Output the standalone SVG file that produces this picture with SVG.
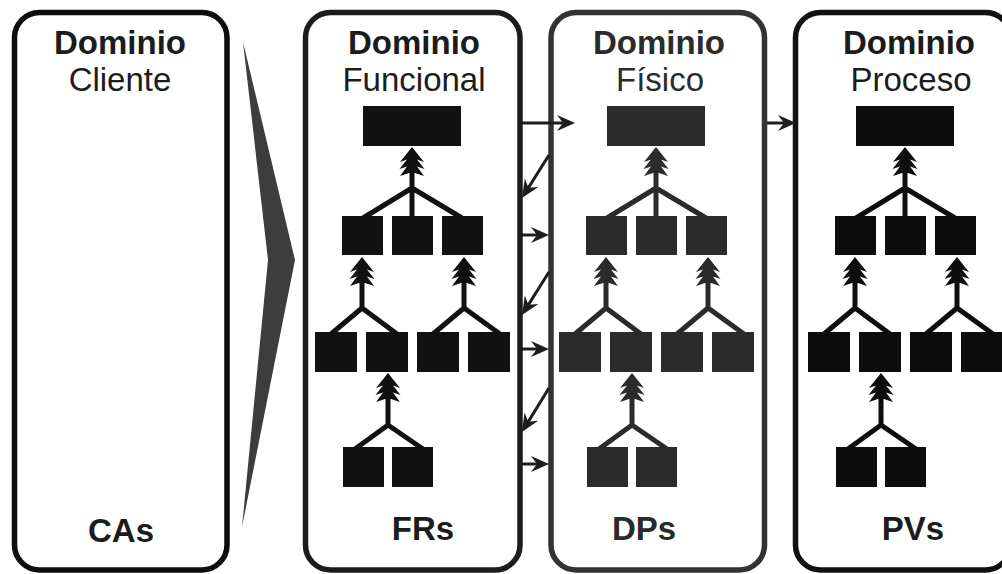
<svg xmlns="http://www.w3.org/2000/svg" xmlns:xlink="http://www.w3.org/1999/xlink" width="1002" height="574" viewBox="0 0 1002 574">
  <style>
    .panel { fill: #ffffff; stroke-width: 5.5; }
    .t { font-family: "Liberation Sans", Arial, Helvetica, sans-serif; font-size: 33px; text-anchor: middle; fill: #1c1c1c; }
    .b { font-weight: bold; }
    .box { fill: currentColor; }
    .link { fill: none; stroke: currentColor; stroke-width: 5; stroke-linecap: butt; stroke-linejoin: miter; }
    .conn { fill: none; stroke: #1e1e1e; stroke-width: 3; }
  </style>
  <defs>
    <path id="tree-head" d="M0,0 L12,15 L5,12.5 L12.5,22 L5,19.5 L12,29 L3,26 L-3,26 L-12,29 L-5,19.5 L-12.5,22 L-5,12.5 L-12,15 Z"/>
    <marker id="arr" viewBox="-14 -10 22 20" refX="0" refY="0" markerWidth="22" markerHeight="20" markerUnits="userSpaceOnUse" orient="auto">
      <path d="M6,0 L-12,-8 L-6,0 L-12,8 Z" fill="#1e1e1e"/>
    </marker>
  </defs>
  <rect width="1002" height="574" fill="#ffffff"/>

  <!-- chevron -->
  <polygon id="chevron" points="243,42 295,260 242,527 268,260" fill="#3d3d3d"/>

  <g id="dominio-cliente">
    <rect class="panel" x="14.5" y="12.5" width="212.5" height="557.5" rx="25" stroke="#0d0d0d"/>
    <text class="t b" x="120" y="54">Dominio</text>
    <text class="t" x="120" y="91">Cliente</text>
    <text class="t b" x="121" y="542">CAs</text>
  </g>

  <g id="dominio-funcional">
    <rect class="panel" x="305.5" y="12.5" width="214.5" height="557.5" rx="25" stroke="#1c1c1c"/>
    <text class="t b" x="414" y="54">Dominio</text>
    <text class="t" x="414" y="91">Funcional</text>
    <text class="t b" x="423" y="540">FRs</text>
  </g>

  <g id="dominio-fisico">
    <rect class="panel" x="551" y="12.5" width="213.5" height="557.5" rx="25" stroke="#333333"/>
    <text class="t b" x="659" y="54" style="fill:#2b2b2b">Dominio</text>
    <text class="t" x="660" y="91" style="fill:#2b2b2b">Físico</text>
    <text class="t b" x="644" y="540" style="fill:#2b2b2b">DPs</text>
  </g>

  <g id="dominio-proceso">
    <rect class="panel" x="795.5" y="12.5" width="215" height="557.5" rx="25" stroke="#111111"/>
    <text class="t b" x="909" y="54">Dominio</text>
    <text class="t" x="911" y="91">Proceso</text>
    <text class="t b" x="913" y="540">PVs</text>
  </g>

  <!-- hierarchy trees -->
  <g id="tree-frs" style="color:#111111">
    <rect class="box" x="363" y="106" width="98" height="40"/>
    <rect class="box" x="342" y="216" width="41" height="39"/>
    <rect class="box" x="392" y="216" width="41" height="39"/>
    <rect class="box" x="442" y="216" width="41" height="39"/>
    <rect class="box" x="315" y="332" width="42" height="40"/>
    <rect class="box" x="366" y="332" width="42" height="40"/>
    <rect class="box" x="417" y="332" width="42" height="40"/>
    <rect class="box" x="468" y="332" width="42" height="40"/>
    <rect class="box" x="343" y="447" width="41" height="40"/>
    <rect class="box" x="392" y="447" width="41" height="40"/>
    <path class="link" d="M412,170 V218 M363,218 L412,188 L462,218"/>
    <path class="link" d="M362,280 V308 M331,334 L362,308 L397,334"/>
    <path class="link" d="M464,280 V308 M433,334 L464,308 L500,334"/>
    <path class="link" d="M388,396 V425 M355,449 L388,425 L423,449"/>
    <use xlink:href="#tree-head" href="#tree-head" x="412" y="147" class="box"/>
    <use xlink:href="#tree-head" href="#tree-head" x="362" y="257" class="box"/>
    <use xlink:href="#tree-head" href="#tree-head" x="464" y="257" class="box"/>
    <use xlink:href="#tree-head" href="#tree-head" x="388" y="373" class="box"/>
  </g>

  <g id="tree-dps" style="color:#2b2b2b" transform="translate(244,0)">
    <rect class="box" x="363" y="106" width="98" height="40"/>
    <rect class="box" x="342" y="216" width="41" height="39"/>
    <rect class="box" x="392" y="216" width="41" height="39"/>
    <rect class="box" x="442" y="216" width="41" height="39"/>
    <rect class="box" x="315" y="332" width="42" height="40"/>
    <rect class="box" x="366" y="332" width="42" height="40"/>
    <rect class="box" x="417" y="332" width="42" height="40"/>
    <rect class="box" x="468" y="332" width="42" height="40"/>
    <rect class="box" x="343" y="447" width="41" height="40"/>
    <rect class="box" x="392" y="447" width="41" height="40"/>
    <path class="link" d="M412,170 V218 M363,218 L412,188 L462,218"/>
    <path class="link" d="M362,280 V308 M331,334 L362,308 L397,334"/>
    <path class="link" d="M464,280 V308 M433,334 L464,308 L500,334"/>
    <path class="link" d="M388,396 V425 M355,449 L388,425 L423,449"/>
    <use xlink:href="#tree-head" href="#tree-head" x="412" y="147" class="box"/>
    <use xlink:href="#tree-head" href="#tree-head" x="362" y="257" class="box"/>
    <use xlink:href="#tree-head" href="#tree-head" x="464" y="257" class="box"/>
    <use xlink:href="#tree-head" href="#tree-head" x="388" y="373" class="box"/>
  </g>

  <g id="tree-pvs" style="color:#0d0d0d" transform="translate(493,0)">
    <rect class="box" x="363" y="106" width="98" height="40"/>
    <rect class="box" x="342" y="216" width="41" height="39"/>
    <rect class="box" x="392" y="216" width="41" height="39"/>
    <rect class="box" x="442" y="216" width="41" height="39"/>
    <rect class="box" x="315" y="332" width="42" height="40"/>
    <rect class="box" x="366" y="332" width="42" height="40"/>
    <rect class="box" x="417" y="332" width="42" height="40"/>
    <rect class="box" x="468" y="332" width="42" height="40"/>
    <rect class="box" x="343" y="447" width="41" height="40"/>
    <rect class="box" x="392" y="447" width="41" height="40"/>
    <path class="link" d="M412,170 V218 M363,218 L412,188 L462,218"/>
    <path class="link" d="M362,280 V308 M331,334 L362,308 L397,334"/>
    <path class="link" d="M464,280 V308 M433,334 L464,308 L500,334"/>
    <path class="link" d="M388,396 V425 M355,449 L388,425 L423,449"/>
    <use xlink:href="#tree-head" href="#tree-head" x="412" y="147" class="box"/>
    <use xlink:href="#tree-head" href="#tree-head" x="362" y="257" class="box"/>
    <use xlink:href="#tree-head" href="#tree-head" x="464" y="257" class="box"/>
    <use xlink:href="#tree-head" href="#tree-head" x="388" y="373" class="box"/>
  </g>

  <g id="connectors">
    <line class="conn" x1="522" y1="123" x2="569" y2="123" marker-end="url(#arr)"/>
    <line class="conn" x1="549" y1="155" x2="525.2" y2="192.9" marker-end="url(#arr)"/>
    <line class="conn" x1="522" y1="235" x2="543" y2="235" marker-end="url(#arr)"/>
    <line class="conn" x1="549" y1="272" x2="525.2" y2="309.9" marker-end="url(#arr)"/>
    <line class="conn" x1="522" y1="349" x2="543" y2="349" marker-end="url(#arr)"/>
    <line class="conn" x1="549" y1="388" x2="525.1" y2="426.9" marker-end="url(#arr)"/>
    <line class="conn" x1="522" y1="464" x2="543" y2="464" marker-end="url(#arr)"/>
    <line class="conn" x1="767" y1="123" x2="790" y2="123" marker-end="url(#arr)"/>
  </g>
</svg>
